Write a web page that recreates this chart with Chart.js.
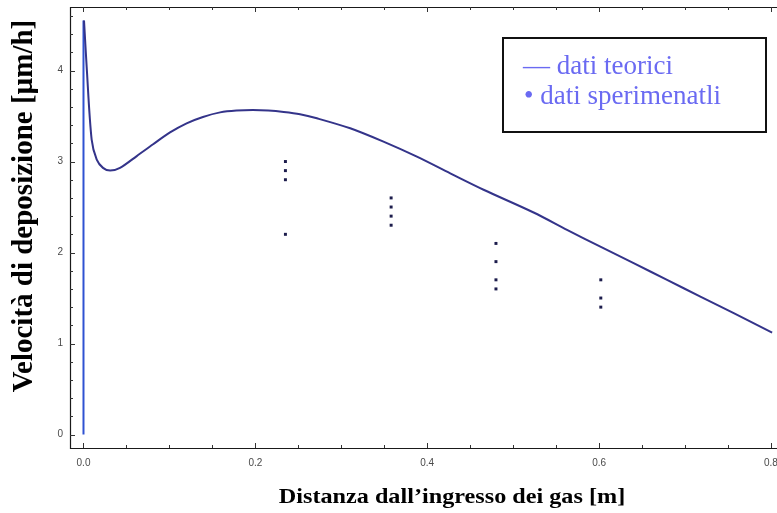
<!DOCTYPE html>
<html>
<head>
<meta charset="utf-8">
<script src="https://cdn.jsdelivr.net/npm/chart.js@4"></script>
<style>
  html, body { margin: 0; padding: 0; background: #ffffff; }
  #wrap { width: 777px; height: 513px; }
</style>
</head>
<body>
<div id="wrap"><canvas id="c" width="777" height="513"></canvas></div>
<script>
// Theoretical deposition rate along the reactor (m -> µm/h)
const theoryX = [0.0006, 0.0037, 0.0095, 0.0154, 0.0227, 0.031, 0.0425, 0.062, 0.081, 0.1007,
                 0.12, 0.139, 0.159, 0.178, 0.197, 0.215, 0.233, 0.252, 0.2716, 0.3104,
                 0.3491, 0.388, 0.4268, 0.4656, 0.5238, 0.5627, 0.6015, 0.6402, 0.6791,
                 0.7179, 0.7567, 0.8014];
const theoryY = [4.55, 4.04, 3.24, 3.02, 2.93, 2.90, 2.93, 3.06, 3.19, 3.32,
                 3.42, 3.49, 3.54, 3.56, 3.565, 3.56, 3.545, 3.52, 3.475, 3.365,
                 3.218, 3.053, 2.87, 2.69, 2.44, 2.25, 2.064, 1.883, 1.70,
                 1.515, 1.333, 1.119];

// Inlet edge of the theoretical profile
const inletX = [0, 0];
const inletY = [0, 4.55];

// Measured deposition rates
const expX = [0.235, 0.235, 0.235, 0.235,
              0.358, 0.358, 0.358, 0.358,
              0.480, 0.480, 0.480, 0.480,
              0.602, 0.602, 0.602];
const expY = [3.0, 2.9, 2.8, 2.2,
              2.6, 2.5, 2.4, 2.3,
              2.1, 1.9, 1.7, 1.6,
              1.7, 1.5, 1.4];

// Axis tick labels
const xTickValues = [0, 0.2, 0.4, 0.6, 0.8];
const yTickValues = [0, 1, 2, 3, 4];

const xTitle = "Distanza dall\u2019ingresso dei gas [m]";
const yTitle = "Velocit\u00e0 di deposizione [\u00b5m/h]";
const legendLines = ["\u2014 dati teorici", "\u2022 dati sperimenatli"];

const toPts = (xs, ys) => xs.map((x, i) => ({ x: x, y: ys[i] }));

// Frame with inward major/minor ticks
const framePlugin = {
  id: 'frame',
  afterDatasetsDraw(chart) {
    const { ctx, chartArea: a, scales: { x, y } } = chart;
    ctx.save();
    ctx.strokeStyle = '#1a1a1a';
    ctx.lineWidth = 1.2;
    ctx.beginPath();
    ctx.moveTo(a.left + 0.5, a.top + 0.5);
    ctx.lineTo(a.right + 10, a.top + 0.5);
    ctx.moveTo(a.left + 0.5, a.top);
    ctx.lineTo(a.left + 0.5, a.bottom + 0.5);
    ctx.lineTo(a.right + 10, a.bottom + 0.5);
    ctx.stroke();

    ctx.lineWidth = 1;
    ctx.strokeStyle = '#333333';
    ctx.beginPath();
    for (let k = 0; k <= 16; k++) {
      const v = k * 0.05;
      const px = Math.round(x.getPixelForValue(v)) + 0.5;
      const len = (k % 4 === 0) ? 5 : 3;
      ctx.moveTo(px, a.bottom); ctx.lineTo(px, a.bottom - len);
      ctx.moveTo(px, a.top); ctx.lineTo(px, a.top + len);
    }
    for (let k = 0; k <= 23; k++) {
      const v = k * 0.2;
      const py = Math.round(y.getPixelForValue(v)) + 0.5;
      const len = (k % 5 === 0) ? 5 : 3;
      ctx.moveTo(a.left, py); ctx.lineTo(a.left + len, py);
    }
    ctx.stroke();
    ctx.restore();
  }
};

// Axis titles and legend box
const annotatePlugin = {
  id: 'annotate',
  afterDraw(chart) {
    const { ctx } = chart;
    ctx.save();
    ctx.fillStyle = '#000000';
    ctx.textAlign = 'center';
    ctx.textBaseline = 'alphabetic';

    ctx.save();
    ctx.translate(452, 503);
    ctx.scale(1.1, 1);
    ctx.font = 'bold 22px "Liberation Serif", "Times New Roman", serif';
    ctx.fillText(xTitle, 0, 0);
    ctx.restore();

    ctx.save();
    ctx.translate(32, 206);
    ctx.rotate(-Math.PI / 2);
    ctx.font = 'bold 29px "Liberation Serif", "Times New Roman", serif';
    ctx.fillText(yTitle, 0, 0);
    ctx.restore();

    // legend
    ctx.fillStyle = '#ffffff';
    ctx.fillRect(503, 38, 263, 94);
    ctx.strokeStyle = '#111111';
    ctx.lineWidth = 2;
    ctx.strokeRect(503, 38, 263, 94);
    ctx.fillStyle = '#6a6af2';
    ctx.textAlign = 'left';
    ctx.font = '27px "Liberation Serif", "Times New Roman", serif';
    ctx.fillText(legendLines[0], 523, 74);
    ctx.fillText(legendLines[1], 524, 104);
    ctx.restore();
  }
};

new Chart(document.getElementById('c'), {
  type: 'scatter',
  data: {
    datasets: [
      {
        label: 'inlet',
        data: toPts(inletX, inletY),
        showLine: true,
        borderColor: '#2f52d2',
        borderWidth: 2,
        pointRadius: 0,
        order: 3
      },
      {
        label: 'dati teorici',
        data: toPts(theoryX, theoryY),
        showLine: true,
        borderColor: '#34348a',
        borderWidth: 2,
        pointRadius: 0,
        tension: 0.3,
        order: 2
      },
      {
        label: 'dati sperimenatli',
        data: toPts(expX, expY),
        showLine: false,
        pointStyle: 'rect',
        pointRadius: 2.1,
        pointBorderWidth: 0,
        backgroundColor: '#1c1c4c',
        borderColor: '#1c1c4c',
        order: 1
      }
    ]
  },
  options: {
    responsive: false,
    animation: false,
    events: [],
    layout: { padding: { top: 7, right: 0, left: 0, bottom: 0 } },
    plugins: { legend: { display: false }, tooltip: { enabled: false } },
    scales: {
      x: {
        type: 'linear',
        min: -0.0157,
        max: 0.8024,
        afterBuildTicks: s => { s.ticks = xTickValues.map(v => ({ value: v })); },
        afterFit: s => { s.height = 65; s.paddingLeft = 0; s.paddingRight = 0; },
        border: { display: false },
        grid: { display: false, drawTicks: false },
        ticks: {
          padding: 9,
          color: '#4a4a4a',
          font: { family: '"Liberation Sans", Arial, sans-serif', size: 10 },
          callback: v => v.toFixed(1),
          maxRotation: 0
        }
      },
      y: {
        type: 'linear',
        min: -0.148,
        max: 4.698,
        afterBuildTicks: s => { s.ticks = yTickValues.map(v => ({ value: v })); },
        afterFit: s => { s.width = 70; s.paddingTop = 0; s.paddingBottom = 0; },
        border: { display: false },
        grid: { display: false, drawTicks: false },
        ticks: {
          padding: 7,
          color: '#4a4a4a',
          font: { family: '"Liberation Sans", Arial, sans-serif', size: 10 },
          callback: v => String(v)
        }
      }
    }
  },
  plugins: [framePlugin, annotatePlugin]
});
</script>
</body>
</html>
